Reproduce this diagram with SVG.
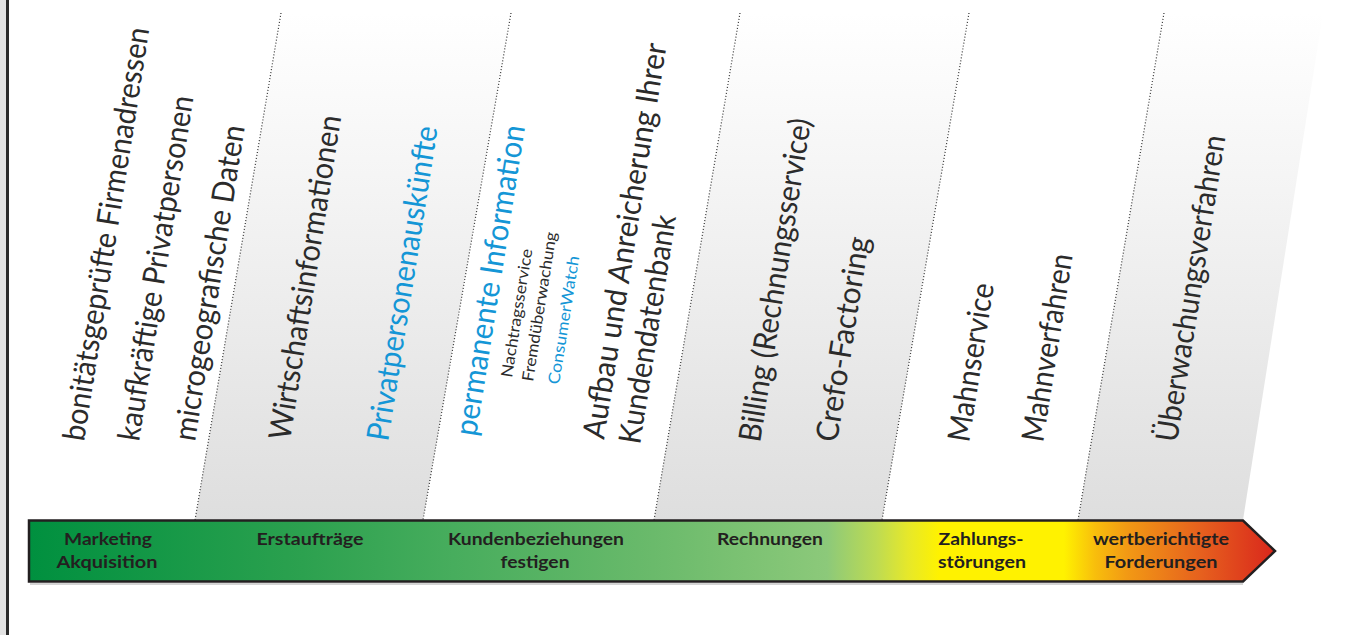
<svg xmlns="http://www.w3.org/2000/svg" width="1348" height="635" viewBox="0 0 1348 635">
<defs>
<linearGradient id="bandGrad" gradientUnits="userSpaceOnUse" x1="0" y1="13" x2="0" y2="520">
<stop offset="0" stop-color="#ffffff"/>
<stop offset="0.35" stop-color="#f4f4f4"/>
<stop offset="1" stop-color="#dedede"/>
</linearGradient>
<linearGradient id="barGrad" gradientUnits="userSpaceOnUse" x1="29" y1="0" x2="1276" y2="0">
<stop offset="0" stop-color="#00903f"/>
<stop offset="0.22" stop-color="#2ca14f"/>
<stop offset="0.34" stop-color="#47ad5d"/>
<stop offset="0.5" stop-color="#6aba6b"/>
<stop offset="0.64" stop-color="#8cc97a"/>
<stop offset="0.68" stop-color="#bedb52"/>
<stop offset="0.705" stop-color="#e6e82a"/>
<stop offset="0.73" stop-color="#fff200"/>
<stop offset="0.83" stop-color="#fff200"/>
<stop offset="0.855" stop-color="#f8be0c"/>
<stop offset="0.88" stop-color="#f29a14"/>
<stop offset="0.94" stop-color="#e6601e"/>
<stop offset="1" stop-color="#d9261c"/>
</linearGradient>
</defs>
<style>
.band{fill:url(#bandGrad)}
.div{stroke:#333;stroke-width:1.2;stroke-dasharray:1 2;fill:none}
.t{font-family:Lato,"Liberation Sans",sans-serif;font-size:31px;fill:#2b2b2b}
.s{font-family:Lato,"Liberation Sans",sans-serif;font-size:16px;fill:#2b2b2b}
.blue{fill:#1496d6}
.lbl{font-family:Lato,"Liberation Sans",sans-serif;font-size:17px;font-weight:bold;fill:#231f20;text-anchor:middle}
</style>
<rect x="0" y="0" width="1348" height="635" fill="#ffffff"/>
<g id="page-edge">
<rect x="0" y="0" width="6" height="635" fill="#e3e3e3"/>
<line x1="7.5" y1="0" x2="7.5" y2="635" stroke="#2b2b2b" stroke-width="3"/>
</g>
<g id="bands">
<polygon class="band" points="281,13 511,13 423,520 195,520"/>
<polygon class="band" points="740,13 969,13 882,520 654,520"/>
<polygon class="band" points="1164,13 1323,13 1243,520 1078,520"/>
</g>
<g id="dividers">
<line class="div" x1="281" y1="13" x2="195" y2="520"/>
<line class="div" x1="511" y1="13" x2="423" y2="520"/>
<line class="div" x1="740" y1="13" x2="654" y2="520"/>
<line class="div" x1="969" y1="13" x2="882" y2="520"/>
<line class="div" x1="1164" y1="13" x2="1078" y2="520"/>
</g>
<g id="col-marketing">
<text class="t" transform="translate(84,442) rotate(-81)" textLength="418" lengthAdjust="spacingAndGlyphs">bonitätsgeprüfte Firmenadressen</text>
<text class="t" transform="translate(139,442) rotate(-81)" textLength="349" lengthAdjust="spacingAndGlyphs">kaufkräftige Privatpersonen</text>
<text class="t" transform="translate(195,442) rotate(-81)" textLength="319" lengthAdjust="spacingAndGlyphs">microgeografische Daten</text>
</g>
<g id="col-erstauftraege">
<text class="t" transform="translate(290,441) rotate(-81)" textLength="328" lengthAdjust="spacingAndGlyphs">Wirtschaftsinformationen</text>
<text class="t blue" transform="translate(388,442) rotate(-81)" textLength="318" lengthAdjust="spacingAndGlyphs">Privatpersonenauskünfte</text>
</g>
<g id="col-kundenbeziehungen">
<text class="t blue" transform="translate(476,437) rotate(-81)" textLength="314" lengthAdjust="spacingAndGlyphs">permanente Information</text>
<text class="s" transform="translate(512,378) rotate(-81)" textLength="130" lengthAdjust="spacingAndGlyphs">Nachtragsservice</text>
<text class="s" transform="translate(533,382) rotate(-81)" textLength="151" lengthAdjust="spacingAndGlyphs">Fremdüberwachung</text>
<text class="s blue" transform="translate(559,385) rotate(-81)" textLength="130" lengthAdjust="spacingAndGlyphs">ConsumerWatch</text>
<text class="t" transform="translate(604,440) rotate(-81)" textLength="400" lengthAdjust="spacingAndGlyphs">Aufbau und Anreicherung Ihrer</text>
<text class="t" transform="translate(640,445) rotate(-81)" textLength="231" lengthAdjust="spacingAndGlyphs">Kundendatenbank</text>
</g>
<g id="col-rechnungen">
<text class="t" transform="translate(760,443) rotate(-81)" textLength="327" lengthAdjust="spacingAndGlyphs">Billing (Rechnungsservice)</text>
<text class="t" transform="translate(837,443) rotate(-81)" textLength="207" lengthAdjust="spacingAndGlyphs">Crefo-Factoring</text>
</g>
<g id="col-zahlungsstoerungen">
<text class="t" transform="translate(969,443) rotate(-81)" textLength="160" lengthAdjust="spacingAndGlyphs">Mahnservice</text>
<text class="t" transform="translate(1043,443) rotate(-81)" textLength="190" lengthAdjust="spacingAndGlyphs">Mahnverfahren</text>
</g>
<g id="col-forderungen">
<text class="t" transform="translate(1177,443) rotate(-81)" textLength="310" lengthAdjust="spacingAndGlyphs">Überwachungsverfahren</text>
</g>
<g id="phase-arrow">
<line x1="30" y1="584" x2="1243" y2="584" stroke="#d4d4d4" stroke-width="2"/>
<polygon points="29,520.5 1243,520.5 1275,551 1243,581.5 29,581.5" fill="url(#barGrad)" stroke="#231f20" stroke-width="2.5"/>
<text class="lbl" x="108" y="545" textLength="88" lengthAdjust="spacingAndGlyphs">Marketing</text>
<text class="lbl" x="107" y="568" textLength="101" lengthAdjust="spacingAndGlyphs">Akquisition</text>
<text class="lbl" x="310" y="545" textLength="107" lengthAdjust="spacingAndGlyphs">Erstaufträge</text>
<text class="lbl" x="536" y="545" textLength="176" lengthAdjust="spacingAndGlyphs">Kundenbeziehungen</text>
<text class="lbl" x="535" y="568" textLength="69" lengthAdjust="spacingAndGlyphs">festigen</text>
<text class="lbl" x="770" y="545" textLength="106" lengthAdjust="spacingAndGlyphs">Rechnungen</text>
<text class="lbl" x="981" y="545" textLength="85" lengthAdjust="spacingAndGlyphs">Zahlungs-</text>
<text class="lbl" x="982" y="568" textLength="88" lengthAdjust="spacingAndGlyphs">störungen</text>
<text class="lbl" x="1161" y="545" textLength="136" lengthAdjust="spacingAndGlyphs">wertberichtigte</text>
<text class="lbl" x="1161" y="568" textLength="113" lengthAdjust="spacingAndGlyphs">Forderungen</text>
</g>
</svg>
